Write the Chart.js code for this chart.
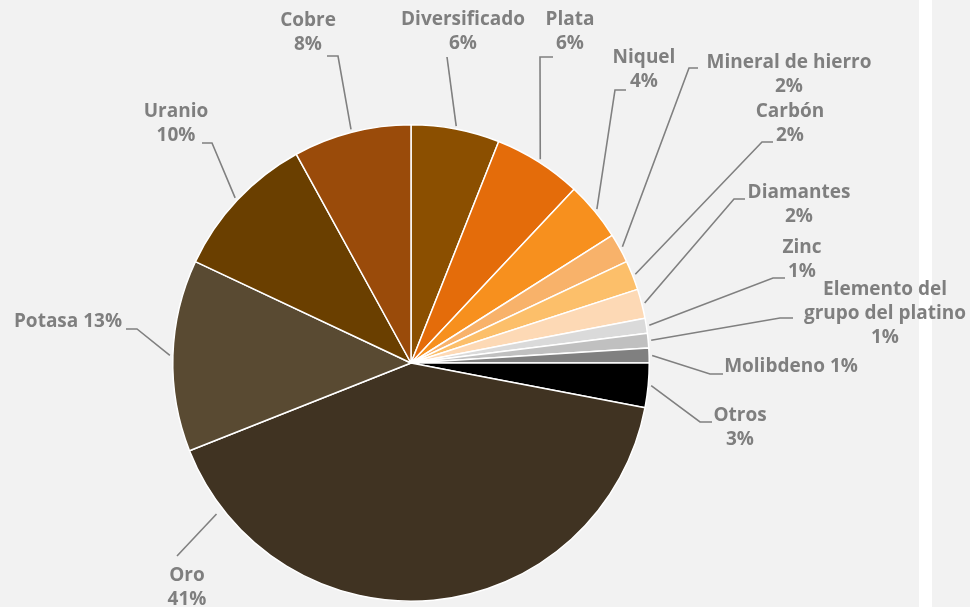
<!DOCTYPE html>
<html>
<head>
<meta charset="utf-8">
<script src="https://cdn.jsdelivr.net/npm/chart.js@4"></script>
<style>
  html, body { margin: 0; padding: 0; }
  body { width: 970px; height: 607px; overflow: hidden;
         background: linear-gradient(to right, #F2F2F2 0px, #F2F2F2 919px, #FFFFFF 919px, #FFFFFF 932px, #F2F2F2 932px); }
  #wrap { position: relative; width: 970px; height: 607px; }
</style>
</head>
<body>
<div id="wrap"><canvas id="c" width="970" height="607"></canvas></div>
<script>
// ---- data ----
const categories = ["Diversificado", "Plata", "Niquel", "Mineral de hierro", "Carbón", "Diamantes", "Zinc",
  "Elemento del grupo del platino", "Molibdeno", "Otros", "Oro", "Potasa", "Uranio", "Cobre"];
const shares = [6, 6, 4, 2, 2, 2, 1, 1, 1, 3, 41, 13, 10, 8];
const sliceColors = ["#8B4F00", "#E46C0A", "#F7901E", "#F8B26A", "#FCBF6A", "#FDD9B5", "#DADADA",
  "#C0C0C0", "#808080", "#000000", "#403322", "#594A32", "#6A3F00", "#9A4B0A"];

// ---- label text lines (label text built from categories + shares) ----
const labelLines = [
  [categories[0], shares[0] + "%"],
  [categories[1], shares[1] + "%"],
  [categories[2], shares[2] + "%"],
  [categories[3], shares[3] + "%"],
  [categories[4], shares[4] + "%"],
  [categories[5], shares[5] + "%"],
  [categories[6], shares[6] + "%"],
  ["Elemento del", "grupo del platino", shares[7] + "%"],
  [categories[8] + " " + shares[8] + "%"],
  [categories[9], shares[9] + "%"],
  [categories[10], shares[10] + "%"],
  [categories[11] + " " + shares[11] + "%"],
  [categories[12], shares[12] + "%"],
  [categories[13], shares[13] + "%"]
];

// ---- label layout (pixel placement of text and leader elbows; styling only) ----
const labelLayout = [
  { x: 463, y: 20, elbow: [447, 57], end: null, frac: 0.5 },
  { x: 570, y: 20, elbow: [540, 57], end: [553, 57], frac: 0.5 },
  { x: 644, y: 58, elbow: [615, 90], end: [626, 90], frac: 0.5 },
  { x: 789, y: 63, elbow: [689, 68], end: [698, 68], frac: 0.5 },
  { x: 790, y: 112, elbow: [762, 142], end: [773, 142], frac: 0.5 },
  { x: 799, y: 193, elbow: [734, 199], end: [745, 199], frac: 0.5 },
  { x: 802, y: 248, elbow: [773, 278], end: [785, 278], frac: 0.5 },
  { x: 885, y: 290, elbow: [780, 318], end: [793, 318], frac: 0.5 },
  { x: 791, y: 367, elbow: [710, 374], end: [723, 374], frac: 0.5 },
  { x: 740, y: 416, elbow: [700, 422], end: [712, 422], frac: 0.5 },
  { x: 187, y: 576, elbow: [177, 556], end: null, frac: 0.89, gap: 8 },
  { x: 68, y: 322, elbow: [137, 329], end: [126, 329], frac: 0.5 },
  { x: 176, y: 112, elbow: [212, 143], end: [202, 143], frac: 0.5 },
  { x: 308, y: 21, elbow: [338, 56], end: [327, 56], frac: 0.5 }
];
const lineHeight = 24;

const labelPlugin = {
  id: 'pieLabels',
  afterDraw(chart) {
    const ctx = chart.ctx;
    const meta = chart.getDatasetMeta(0);
    ctx.save();
    ctx.strokeStyle = '#808080';
    ctx.lineWidth = 1.6;
    ctx.fillStyle = '#7F7F7F';
    ctx.font = 'bold 19px "Open Sans", sans-serif';
    ctx.textAlign = 'center';
    ctx.textBaseline = 'middle';
    meta.data.forEach((arc, i) => {
      const L = labelLayout[i];
      const p = arc.getProps(['x', 'y', 'startAngle', 'endAngle', 'outerRadius'], true);
      const a = p.startAngle + L.frac * (p.endAngle - p.startAngle);
      const r = p.outerRadius + (L.gap || 3);
      const sx = p.x + Math.cos(a) * r, sy = p.y + Math.sin(a) * r;
      ctx.beginPath();
      ctx.moveTo(sx, sy);
      ctx.lineTo(L.elbow[0], L.elbow[1]);
      if (L.end) ctx.lineTo(L.end[0], L.end[1]);
      ctx.stroke();
      labelLines[i].forEach((t, k) => {
        ctx.fillText(t, L.x, L.y + k * lineHeight);
      });
    });
    ctx.restore();
  }
};

new Chart(document.getElementById('c'), {
  type: 'pie',
  data: {
    labels: categories,
    datasets: [{
      data: shares,
      backgroundColor: sliceColors,
      borderColor: '#FFFFFF',
      borderWidth: 1.5
    }]
  },
  options: {
    responsive: false,
    devicePixelRatio: 1,
    animation: false,
    layout: { padding: { top: 124, bottom: 5, left: 0, right: 148 } },
    plugins: { legend: { display: false }, tooltip: { enabled: false } }
  },
  plugins: [labelPlugin]
});
</script>
</body>
</html>
